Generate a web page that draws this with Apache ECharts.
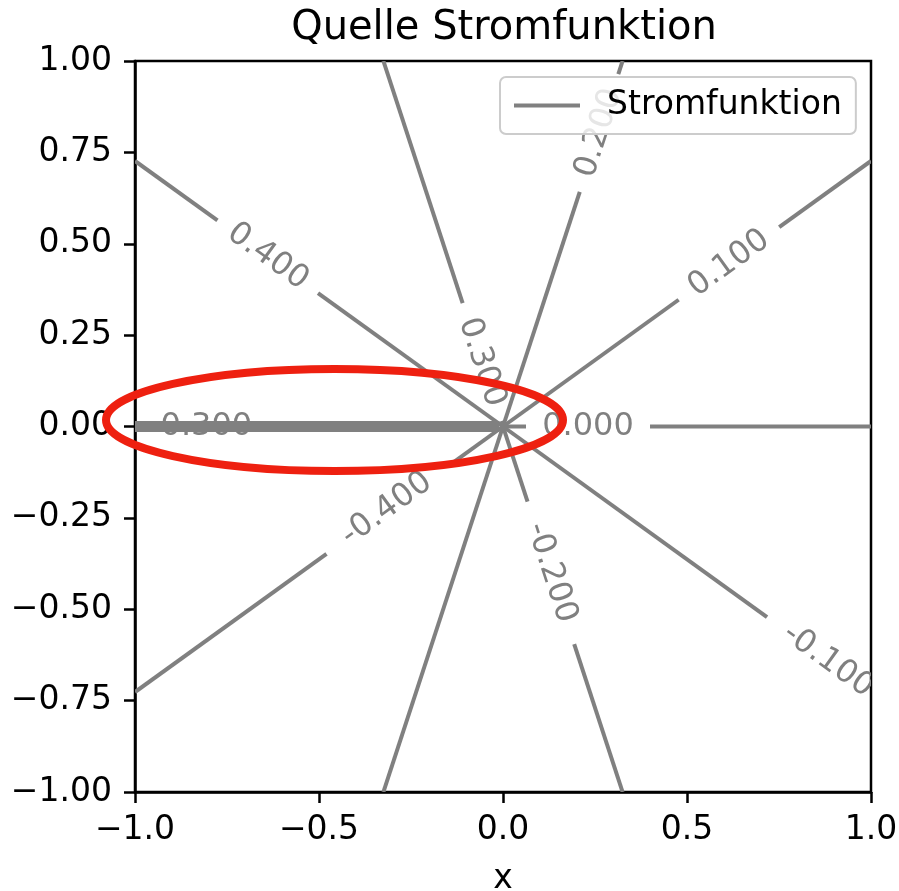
<!DOCTYPE html>
<html><head><meta charset="utf-8">
<script src="https://cdn.jsdelivr.net/npm/echarts@6/dist/echarts.min.js"></script>
<style>html,body{margin:0;padding:0;background:#fff}#c{width:899px;height:891px}</style>
</head><body><div id="c"></div>
<script>
// Contour levels of the source stream function and their straight contour lines (origin -> edge point)
const levelLabels = ['-0.400', '-0.300', '-0.200', '-0.100', '0.000', '0.100', '0.200', '0.300', '0.400'];
const lineEndX    = [-1, -0.325, 0.325, 1, 1, 1, 0.325, -0.325, -1];
const lineEndY    = [-0.7265, -1, -1, -0.7265, 0, 0.7265, 1, 1, 0.7265];
// inline label centres (null = no label)
const labelX      = [-0.316, null, 0.131, 0.883, 0.231, 0.614, 0.261, -0.058, -0.639];
const labelY      = [-0.226, null, -0.400, -0.641, 0, 0.446, 0.803, 0.176, 0.465];
// overlapping contours along the branch cut (negative x axis)
const cutX = [-1, -0.01];
const cutY = [0, 0];
const cutLabel = '0.300';
const cutLabelX = -0.806;
const cutLabelY = 0;

const xTicks = [-1.0, -0.5, 0.0, 0.5, 1.0];
const yTicks = [-1.0, -0.75, -0.5, -0.25, 0.0, 0.25, 0.5, 0.75, 1.0];

const GRAY = '#808080';
const FONT = '"DejaVu Sans", sans-serif';

function fmt(v, d) {
  if (Math.abs(v) < 1e-9) return (0).toFixed(d);
  return (v < 0 ? '\u2212' : '') + Math.abs(v).toFixed(d);
}
function gapPx(txt) { return txt.length >= 6 ? 75 : 62; }

const chart = echarts.init(document.getElementById('c'), null, { width: 899, height: 891 });

function renderContour(params, api) {
  const i = params.dataIndex;
  const o = api.coord([0, 0]);
  const e = api.coord([lineEndX[i], lineEndY[i]]);
  const style = { stroke: GRAY, lineWidth: 4, fill: null };
  const children = [];
  const seg = (p, q) => children.push({ type: 'line', shape: { x1: p[0], y1: p[1], x2: q[0], y2: q[1] }, style: style });
  if (labelX[i] == null) {
    seg(o, e);
  } else {
    const c = api.coord([labelX[i], labelY[i]]);
    const dx = e[0] - o[0], dy = e[1] - o[1];
    const L = Math.hypot(dx, dy), ux = dx / L, uy = dy / L;
    const t = (c[0] - o[0]) * ux + (c[1] - o[1]) * uy;
    const g = gapPx(levelLabels[i]);
    const a = t - g, b = t + g;
    if (a > 0) seg(o, [o[0] + ux * a, o[1] + uy * a]);
    if (b < L) seg([o[0] + ux * b, o[1] + uy * b], e);
  }
  return { type: 'group', children: children };
}

function renderLabel(params, api) {
  const i = params.dataIndex;
  let txt, cx, cy, ang;
  if (i < levelLabels.length) {
    if (labelX[i] == null) return null;
    txt = levelLabels[i];
    const o = api.coord([0, 0]);
    const e = api.coord([lineEndX[i], lineEndY[i]]);
    ang = Math.atan2(-(e[1] - o[1]), e[0] - o[0]);
    if (ang > Math.PI / 2) ang -= Math.PI;
    if (ang < -Math.PI / 2) ang += Math.PI;
    const c = api.coord([labelX[i], labelY[i]]);
    cx = c[0]; cy = c[1];
  } else {
    txt = cutLabel;
    const c = api.coord([cutLabelX, cutLabelY]);
    cx = c[0]; cy = c[1]; ang = 0;
  }
  return {
    type: 'text', x: cx, y: cy, rotation: ang,
    style: { text: txt, fill: GRAY, font: '32px ' + FONT, align: 'center', verticalAlign: 'middle' }
  };
}

const option = {
  backgroundColor: '#fff',
  animation: false,
  title: {
    text: 'Quelle Stromfunktion', left: 499, top: 4, textAlign: 'center',
    textStyle: { fontFamily: FONT, fontSize: 40, fontWeight: 'normal', color: '#000' }
  },
  legend: {
    data: [{ name: 'Stromfunktion', icon: 'rect' }],
    left: 500, top: 77, z: 10,
    padding: [12, 14, 12, 14],
    itemWidth: 66, itemHeight: 4,
    backgroundColor: 'rgba(255,255,255,0.8)',
    borderColor: '#cccccc', borderWidth: 2, borderRadius: 6,
    textStyle: { fontFamily: FONT, fontSize: 33, color: '#000', padding: [0, 0, 0, 22] },
    itemStyle: { color: GRAY }
  },
  grid: {
    left: 135, top: 61, width: 736, height: 731,
    outerBoundsMode: 'none', containLabel: false,
    show: true, borderColor: '#000', borderWidth: 2.5, backgroundColor: 'transparent'
  },
  xAxis: {
    type: 'value', min: -1, max: 1, interval: 0.5,
    axisLine: { onZero: false, lineStyle: { color: '#000', width: 2.5 } },
    axisTick: { length: 11, lineStyle: { color: '#000', width: 2.5 } },
    axisLabel: { margin: 22, fontFamily: FONT, fontSize: 33, color: '#000', formatter: v => fmt(v, 1) },
    splitLine: { show: false },
    name: 'x', nameLocation: 'middle', nameGap: 71,
    nameTextStyle: { fontFamily: FONT, fontSize: 33, color: '#000' }
  },
  yAxis: {
    type: 'value', min: -1, max: 1, interval: 0.25,
    axisLine: { onZero: false, lineStyle: { color: '#000', width: 2.5 } },
    axisTick: { length: 11, lineStyle: { color: '#000', width: 2.5 } },
    axisLabel: { margin: 23, fontFamily: FONT, fontSize: 33, color: '#000', formatter: v => fmt(v, 2) },
    splitLine: { show: false }
  },
  series: [
    {
      name: 'labels', type: 'custom', z: 1, clip: true,
      data: levelLabels.map((l, i) => [i]).concat([[levelLabels.length]]),
      renderItem: renderLabel
    },
    {
      name: 'Stromfunktion', type: 'line', z: 2, symbol: 'none', showSymbol: false,
      lineStyle: { color: GRAY, width: 11 }, itemStyle: { color: GRAY },
      data: cutX.map((x, i) => [x, cutY[i]])
    },
    {
      name: 'Stromfunktion', type: 'custom', z: 2, clip: true,
      itemStyle: { color: GRAY },
      data: levelLabels.map((l, i) => [lineEndX[i], lineEndY[i]]),
      renderItem: renderContour
    }
  ],
  graphic: [{
    type: 'ellipse', z: 100,
    shape: { cx: 334.5, cy: 420, rx: 228.5, ry: 51 },
    style: { fill: null, stroke: '#ee2010', lineWidth: 8 }
  }]
};
chart.setOption(option);
</script></body></html>
